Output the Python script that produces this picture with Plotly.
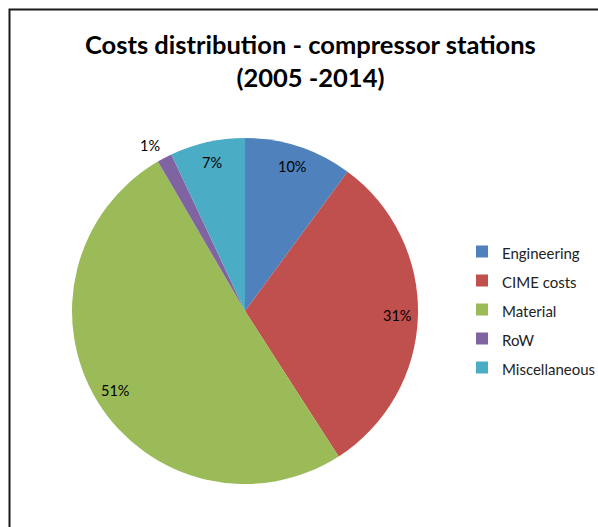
import math
import plotly.graph_objects as go

labels = ["Engineering", "CIME costs", "Material", "RoW", "Miscellaneous"]
values = [10.1, 30.8, 50.7, 1.4, 7.0]
colors = ["#4F81BD", "#C0504D", "#9BBB59", "#8064A2", "#4BACC6"]
label_radius = [0.88, 0.88, 0.88, 1.08, 0.88]
label_xshift = [0, 0, 0, -8, 0]

W, H = 598, 527
cx, cy, R = 245, 311, 173  # pixel centre (from top) and radius

legend_labels = [f'<span style="font-size:15px">{l}</span>' for l in labels]

fig = go.Figure(go.Pie(
    labels=legend_labels, values=values, sort=False, direction="clockwise", rotation=0,
    marker=dict(colors=colors, line=dict(width=0)),
    textinfo="none", hoverinfo="label+percent",
    domain=dict(x=[(cx - R) / W, (cx + R) / W], y=[(H - cy - R) / H, (H - cy + R) / H]),
))

total = sum(values)
cum = 0.0
for v, rr, xs in zip(values, label_radius, label_xshift):
    mid = (cum + v / 2) / total * 2 * math.pi
    cum += v
    px = cx + rr * R * math.sin(mid)
    py = (H - cy) + rr * R * math.cos(mid)
    fig.add_annotation(x=px / W, y=py / H, xref="paper", yref="paper", xshift=xs,
                       xanchor="center", yanchor="middle",
                       text=f"{round(v / total * 100)}%", showarrow=False,
                       font=dict(family="Lato, sans-serif", size=14.5, color="#000"))

fig.add_annotation(x=310 / W, y=1 - 27 / H, xref="paper", yref="paper",
                   xanchor="center", yanchor="top", showarrow=False,
                   text="<b>Costs distribution - compressor stations<br>(2005 -2014)</b>",
                   font=dict(family="Lato, sans-serif", size=25.5, color="#000"))

fig.add_shape(type="rect", xref="paper", yref="paper",
              x0=9.5 / W, x1=1.05, y0=-0.05, y1=1 - 9.5 / H,
              line=dict(color="#1a1a1a", width=2), fillcolor="rgba(0,0,0,0)")

fig.update_layout(
    width=W, height=H, margin=dict(l=0, r=0, t=0, b=0, autoexpand=False),
    paper_bgcolor="white", plot_bgcolor="white",
    legend=dict(x=462 / W, y=(H - 232) / H, xanchor="left", yanchor="top",
                font=dict(family="Lato, sans-serif", size=20, color="#222"),
                itemwidth=30, bgcolor="rgba(0,0,0,0)"),
    showlegend=True,
)

fig.write_html("out.html", config={"displayModeBar": False},
               post_script="document.body.style.margin='0';document.body.style.overflow='hidden';")
